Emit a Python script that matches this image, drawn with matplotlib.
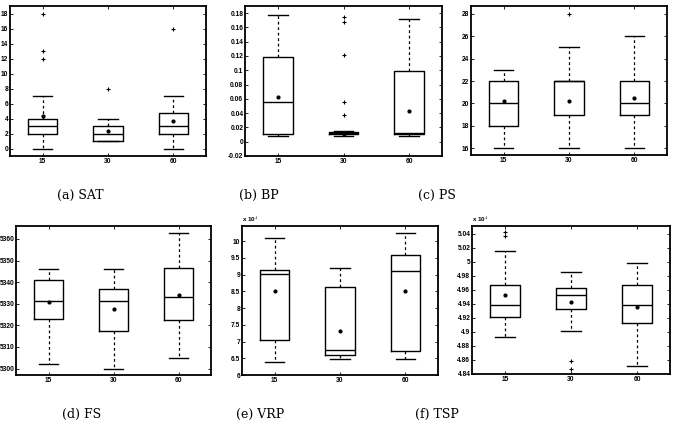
import matplotlib
matplotlib.use("Agg")
import matplotlib.pyplot as plt
from matplotlib.ticker import FuncFormatter, MultipleLocator

plt.rcParams['mathtext.fontset'] = 'cm'

GROUPS = ["15", "30", "60"]

# (a) SAT
SAT_Q1 = [2, 1, 2]
SAT_MED = [3, 2, 3]
SAT_Q3 = [4, 3, 4.8]
SAT_LO = [0, 1, 0]
SAT_HI = [7, 4, 7]
SAT_MEAN = [4.3, 2.4, 3.65]
SAT_OUT = [[12, 13, 18], [8], [16]]

# (b) BP
BP_Q1 = [0.011, 0.011, 0.011]
BP_MED = [0.055, 0.012, 0.012]
BP_Q3 = [0.119, 0.014, 0.0995]
BP_LO = [0.0075, 0.0085, 0.0075]
BP_HI = [0.178, 0.015, 0.172]
BP_MEAN = [0.063, 0.0115, 0.043]
BP_OUT = [[], [0.037, 0.055, 0.122, 0.167, 0.175], []]

# (c) PS
PS_Q1 = [18, 19, 19]
PS_MED = [20, 22, 20]
PS_Q3 = [22, 22, 22]
PS_LO = [16, 16, 16]
PS_HI = [23, 25, 26]
PS_MEAN = [20.2, 20.2, 20.45]
PS_OUT = [[], [28], []]

# (d) FS
FS_Q1 = [5323, 5317.3, 5322.3]
FS_MED = [5331.1, 5331.1, 5333.1]
FS_Q3 = [5340.8, 5337, 5346.6]
FS_LO = [5302.2, 5300, 5305.1]
FS_HI = [5346.1, 5346.1, 5362.9]
FS_MEAN = [5330.6, 5327.7, 5333.9]
FS_OUT = [[], [], []]

# (e) VRP
VRP_Q1 = [70600, 65900, 67100]
VRP_MED = [90100, 67400, 91100]
VRP_Q3 = [91500, 86400, 95800]
VRP_LO = [64000, 64700, 64700]
VRP_HI = [101000, 92000, 102500]
VRP_MEAN = [85000, 73200, 85200]
VRP_OUT = [[], [], []]

# (f) TSP
TSP_Q1 = [49214, 49320, 49120]
TSP_MED = [49390, 49524, 49377]
TSP_Q3 = [49663, 49620, 49667]
TSP_LO = [48924, 49010, 48514]
TSP_HI = [50149, 49853, 49986]
TSP_MEAN = [49524, 49420, 49357]
TSP_OUT = [[50371, 50419], [48580, 48477], []]

CAPTIONS = ["(a) SAT", "(b) BP", "(c) PS", "(d) FS", "(e) VRP", "(f) TSP"]

panels = [
    (SAT_Q1, SAT_MED, SAT_Q3, SAT_LO, SAT_HI, SAT_MEAN, SAT_OUT),
    (BP_Q1, BP_MED, BP_Q3, BP_LO, BP_HI, BP_MEAN, BP_OUT),
    (PS_Q1, PS_MED, PS_Q3, PS_LO, PS_HI, PS_MEAN, PS_OUT),
    (FS_Q1, FS_MED, FS_Q3, FS_LO, FS_HI, FS_MEAN, FS_OUT),
    (VRP_Q1, VRP_MED, VRP_Q3, VRP_LO, VRP_HI, VRP_MEAN, VRP_OUT),
    (TSP_Q1, TSP_MED, TSP_Q3, TSP_LO, TSP_HI, TSP_MEAN, TSP_OUT),
]

# layout in pixels: left, right, top, bottom
W, H = 676, 432
boxes_px = [
    (10, 206, 6, 156), (245, 442, 6, 156), (471, 667, 6, 155),
    (16, 211, 226, 375), (242, 438, 226, 375), (472, 670, 226, 374),
]
ylims = [(-1, 19), (-0.02, 0.19), (15.4, 28.7), (5297, 5366), (60000, 104500), (48400, 50510)]
ysteps = [2, 0.02, 2, 10, 5000, 200]
caption_pos = [(80, 195), (259, 195), (437, 195), (82, 414), (260, 414), (437, 414)]

TICK_FONT = 'Liberation Sans'

fig = plt.figure(figsize=(W / 100, H / 100), dpi=100)

for i, (data, (l, r, t, b)) in enumerate(zip(panels, boxes_px)):
    ax = fig.add_axes([l / W, 1 - b / H, (r - l) / W, (b - t) / H])
    q1, med, q3, lo, hi, mean, out = data
    stats = []
    for k in range(3):
        stats.append(dict(q1=q1[k], med=med[k], q3=q3[k], whislo=lo[k],
                          whishi=hi[k], mean=mean[k], fliers=out[k], label=GROUPS[k]))
    ax.bxp(stats, positions=[1, 2, 3], widths=0.45, capwidths=0.3,
           showmeans=True, showfliers=True,
           boxprops=dict(color='black', linewidth=1.0),
           medianprops=dict(color='black', linewidth=1.0),
           whiskerprops=dict(color='black', linewidth=0.9, linestyle=(0, (2.2, 2.2))),
           capprops=dict(color='black', linewidth=1.0),
           meanprops=dict(marker='.', markerfacecolor='black', markeredgecolor='black', markersize=4),
           flierprops=dict(marker='+', markeredgecolor='black', markersize=3, markeredgewidth=0.8))
    ax.set_xlim(0.5, 3.5)
    ax.set_ylim(*ylims[i])
    ax.yaxis.set_major_locator(MultipleLocator(ysteps[i]))
    if i in (4, 5):
        ax.yaxis.set_major_formatter(FuncFormatter(lambda v, p: '%g' % round(v / 1e4, 4)))
        ax.text(0.0, 1.012, r'x 10$^{\mathbf{4}}$', transform=ax.transAxes, fontsize=4.5,
                ha='left', va='bottom', fontweight='bold', family=TICK_FONT)
    else:
        ax.yaxis.set_major_formatter(FuncFormatter(lambda v, p: '%g' % round(v, 4)))
    ax.tick_params(direction='in', length=2, width=0.6, labelsize=4.8, pad=1.2,
                   top=True, right=True)
    for lab in ax.get_xticklabels() + ax.get_yticklabels():
        lab.set_fontweight('bold')
        lab.set_family(TICK_FONT)
    for sp in ax.spines.values():
        sp.set_linewidth(1.3)
    cx, cy = caption_pos[i]
    fig.text(cx / W, 1 - cy / H, CAPTIONS[i], ha='center', va='center',
             fontsize=9, family='serif', math_fontfamily='cm')

fig.savefig("out.png", dpi=100)
